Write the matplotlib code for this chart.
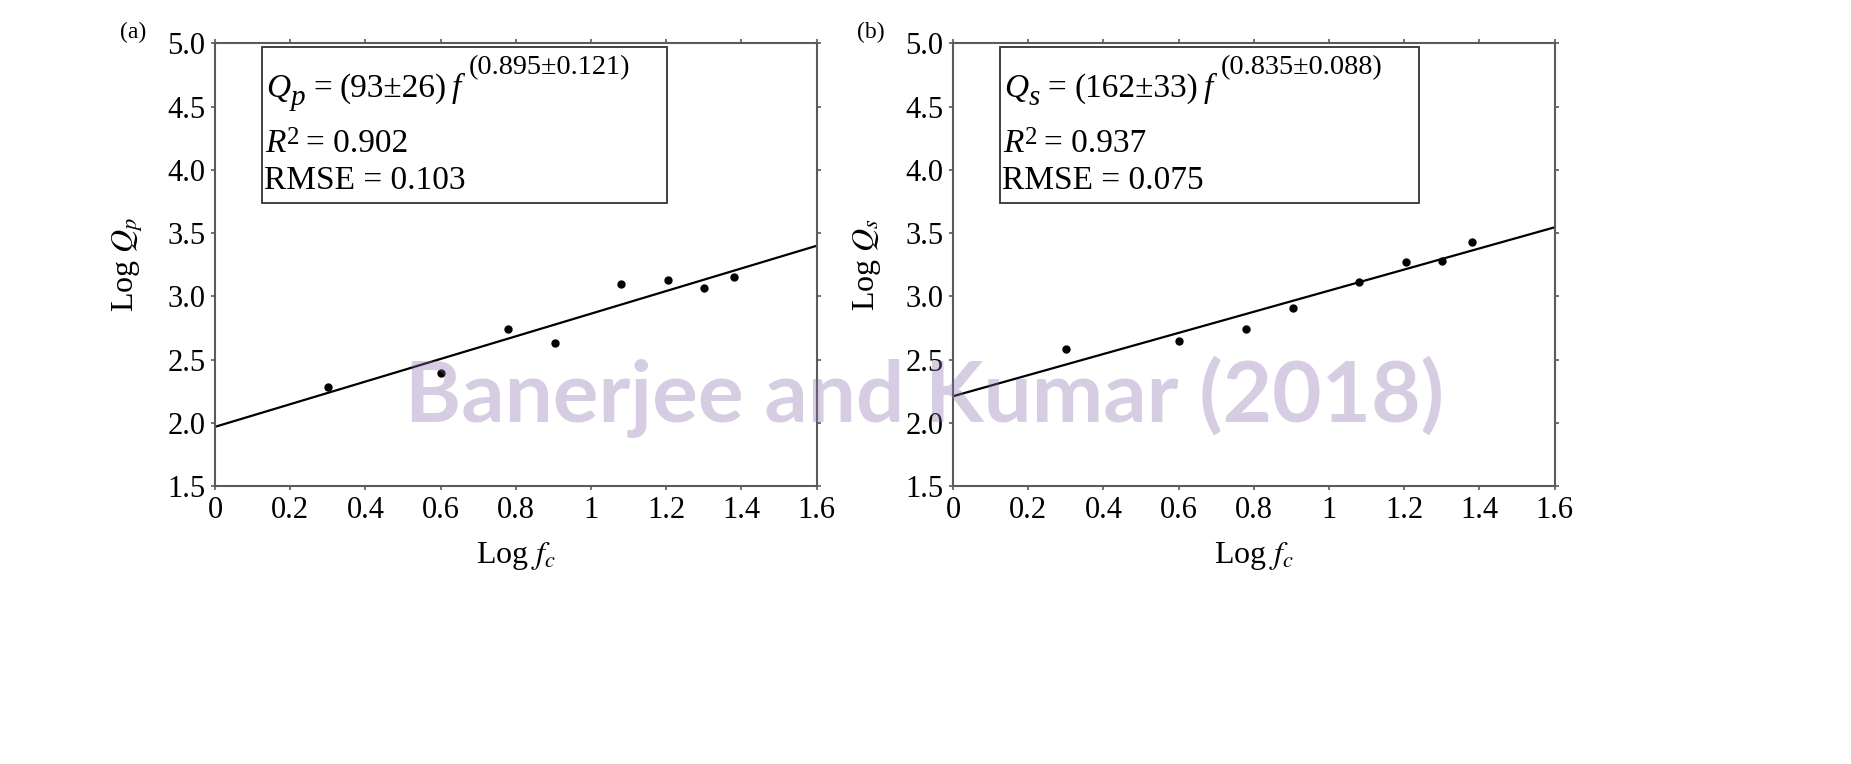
import numpy as np
import matplotlib
matplotlib.use("Agg")
import matplotlib.pyplot as plt
from matplotlib.patches import Rectangle

plt.rcParams['font.family'] = ['Liberation Serif', 'DejaVu Serif']
plt.rcParams['mathtext.fontset'] = 'stix'

# data
log_fc = [0.301, 0.602, 0.778, 0.903, 1.079, 1.204, 1.301, 1.380]
log_qp = [2.285, 2.39, 2.744, 2.63, 3.10, 3.129, 3.068, 3.155]
log_qs = [2.583, 2.649, 2.739, 2.905, 3.115, 3.269, 3.279, 3.426]

# fitted lines (end points)
fit_x = [0.0, 1.6]
fit_qp = [1.968, 3.400]
fit_qs = [2.210, 3.546]

xticks = [0, 0.2, 0.4, 0.6, 0.8, 1.0, 1.2, 1.4, 1.6]
xtick_labels = ["0", "0.2", "0.4", "0.6", "0.8", "1", "1.2", "1.4", "1.6"]
yticks = [1.5, 2.0, 2.5, 3.0, 3.5, 4.0, 4.5, 5.0]
ytick_labels = ["1.5", "2.0", "2.5", "3.0", "3.5", "4.0", "4.5", "5.0"]

# (name, subscript, coefficient, exponent, R2, RMSE)
fit_a = ("Q", "p", "(93\u00b126)", "(0.895\u00b10.121)", "0.902", "0.103")
fit_b = ("Q", "s", "(162\u00b133)", "(0.835\u00b10.088)", "0.937", "0.075")

panels = [
    ("(a)", log_qp, fit_qp, r"Log $Q_p$", fit_a, 0.1162, 0.674),
    ("(b)", log_qs, fit_qs, r"Log $Q_s$", fit_b, 0.5149, 0.697),
]

W, H = 1851, 764
fig = plt.figure(figsize=(W / 100, H / 100), dpi=100)
renderer = fig.canvas.get_renderer()
spine_col = '#5a5a5a'


def put_pieces(ax, x, y, pieces):
    # write a line piece by piece: (text, size, style, raise_px, gap_px)
    px, py = ax.transAxes.transform((x, y))
    for s, size, style, dy, gap in pieces:
        px += gap
        t = fig.text(px / W, (py + dy) / H, s, fontsize=size, style=style,
                     va='baseline', ha='left')
        px = t.get_window_extent(renderer).x1


for tag, ys, fit_y, ylab, fit, left, box_w in panels:
    ax = fig.add_axes([left, 0.3639, 0.3250, 0.5792])
    ax.plot(fit_x, fit_y, color='black', lw=1.6, zorder=2)
    ax.plot(log_fc, ys, 'o', color='black', ms=5, zorder=3)
    ax.set_xlim(0, 1.6)
    ax.set_ylim(1.5, 5.0)
    ax.set_xticks(xticks)
    ax.set_xticklabels(xtick_labels)
    ax.set_yticks(yticks)
    ax.set_yticklabels(ytick_labels)
    ax.tick_params(direction='out', length=3, width=1.2, color=spine_col,
                   labelsize=22, top=True, right=True, pad=4)
    for sp in ax.spines.values():
        sp.set_color(spine_col)
        sp.set_linewidth(1.5)
    ax.set_xlabel(r"Log $f_c$", fontsize=23, labelpad=11)
    ax.set_ylabel(ylab, fontsize=23, labelpad=16)

    # equation box
    ax.add_patch(Rectangle((0.0777, 0.6386), box_w, 0.3524, transform=ax.transAxes,
                           fill=False, edgecolor='#333333', lw=1.3, zorder=4))
    name, sub, coef, expo, r2, rmse = fit
    put_pieces(ax, 0.085, 0.8798, [
        (name, 24, 'italic', 0, 0),
        (sub, 21, 'italic', -8, 0),
        ("=", 24, 'normal', 0, 8),
        (coef, 24, 'normal', 0, 8),
        ("f", 24, 'italic', 0, 5),
        (expo, 20.3, 'normal', 23, 8),
    ])
    put_pieces(ax, 0.083, 0.7541, [
        ("R", 24, 'italic', 0, 0),
        ("2", 18, 'normal', 8, 1),
        ("= " + r2, 24, 'normal', 0, 7),
    ])
    put_pieces(ax, 0.082, 0.6712, [("RMSE = " + rmse, 24, 'normal', 0, 0)])

    fig.text(left - 0.0445, 0.958, tag, fontsize=17, ha='center', va='center')

fig.text(0.4997, 0.4475, "Banerjee and Kumar (2018)", fontsize=61.5, fontweight='bold',
         family='Lato', color=(138/255, 112/255, 172/255), alpha=0.35,
         ha='center', va='baseline', zorder=10)

fig.savefig("out.png", dpi=100)
